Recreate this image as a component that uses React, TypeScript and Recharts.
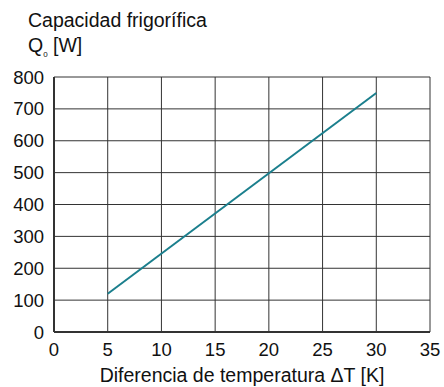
import React from 'react';
import { LineChart, Line, XAxis, YAxis, CartesianGrid } from 'recharts';

// Cooling capacity vs temperature difference
const deltaT = [5, 30];
const capacity = [120, 750];
const xTicks = [0, 5, 10, 15, 20, 25, 30, 35];
const yTicks = [0, 100, 200, 300, 400, 500, 600, 700, 800];

const data = deltaT.map((t, i) => ({ t, q: capacity[i] }));

const font = 'Arial, "Liberation Sans", Helvetica, sans-serif';

const App: React.FC = () => {
  return (
    <div style={{ position: 'fixed', left: 0, top: 0, width: 444, height: 387, background: '#fff', fontFamily: font }}>
      <div style={{ position: 'absolute', left: 28, top: 8, fontSize: 19.5, color: '#111', lineHeight: '24px' }}>
        Capacidad frigorífica
      </div>
      <div style={{ position: 'absolute', left: 28, top: 33, fontSize: 19.5, color: '#111', lineHeight: '24px' }}>
        Q<sub style={{ fontSize: 8 }}>0</sub> [W]
      </div>
      <LineChart
        width={444}
        height={387}
        data={data}
        margin={{ top: 77, right: 14, left: 0, bottom: 0 }}
      >
        <CartesianGrid stroke="#333" strokeWidth={1} />
        <XAxis
          dataKey="t"
          type="number"
          domain={[0, 35]}
          ticks={xTicks}
          height={55}
          tickLine={false}
          tickSize={0}
          tickMargin={11}
          axisLine={{ stroke: '#333', strokeWidth: 2 }}
          tick={{ fill: '#111', fontSize: 18.5, fontFamily: font }}
          label={{ value: 'Diferencia de temperatura ΔT [K]', position: 'insideBottom', offset: 5, fill: '#111', fontSize: 19.5, fontFamily: font }}
        />
        <YAxis
          type="number"
          domain={[0, 800]}
          ticks={yTicks}
          width={54}
          tickLine={false}
          tickSize={0}
          tickMargin={10}
          axisLine={{ stroke: '#333', strokeWidth: 2 }}
          tick={{ fill: '#111', fontSize: 18.5, fontFamily: font }}
        />
        <Line
          type="linear"
          dataKey="q"
          stroke="#1b7f8d"
          strokeWidth={2}
          dot={false}
          isAnimationActive={false}
        />
      </LineChart>
    </div>
  );
};

export default App;
